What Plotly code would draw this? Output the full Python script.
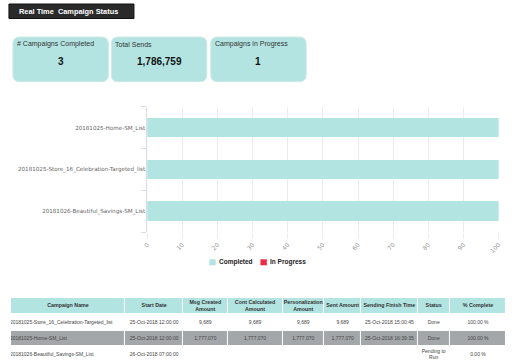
import plotly.graph_objects as go

W, H = 512, 363

# ---- data ----
campaigns = ["20181025-Home-SM_List", "20181025-Store_16_Celebration-Targeted_list", "20181026-Beautiful_Savings-SM_List"]
completed = [100, 100, 100]
in_progress = [0, 0, 0]
x_ticks = [0, 10, 20, 30, 40, 50, 60, 70, 80, 90, 100]
series_names = ["Completed", "In Progress"]

card_titles = ["# Campaigns Completed", "Total Sends", "Campaigns in Progress"]
card_values = ["3", "1,786,759", "1"]

tbl_headers = ["Campaign Name", "Start Date", "Msg Created<br>Amount", "Cont Calculated<br>Amount",
               "Personalization<br>Amount", "Sent Amount", "Sending Finish Time", "Status", "% Complete"]
tbl_name = ["20181025-Store_16_Celebration-Targeted_list", "20181025-Home-SM_List", "20181026-Beautiful_Savings-SM_List"]
tbl_start = ["25-Oct-2018 12:00:00", "25-Oct-2018 12:00:00", "26-Oct-2018 07:00:00"]
tbl_msg = ["9,689", "1,777,070", ""]
tbl_cont = ["9,689", "1,777,070", ""]
tbl_pers = ["9,689", "1,777,070", ""]
tbl_sent = ["9,689", "1,777,070", ""]
tbl_finish = ["25-Oct-2018 15:00:45", "25-Oct-2018 16:39:35", ""]
tbl_status = ["Done", "Done", "Pending to<br>Run"]
tbl_pct = ["100.00 %", "100.00 %", "0.00 %"]

# ---- style / layout constants ----
TEAL = "#b2e4e2"
RED = "#ee2a44"
GRAY_ROW = "#a3a7a9"
col_widths = [116, 59, 45, 56, 42, 38, 57, 33, 57]
tbl_left = 6
row_edges = [298, 314, 331, 346, 363]
row_fill_idx = [2, 0, 1, 0]   # header teal, white, gray, white


def px(x):
    return x / W


def py(y):
    return 1 - y / H


fig = go.Figure()
fig.add_trace(go.Bar(y=campaigns, x=completed, orientation="h", name=series_names[0],
                     marker=dict(color=TEAL, line=dict(width=0)), showlegend=False))
fig.add_trace(go.Bar(y=campaigns, x=in_progress, orientation="h", name=series_names[1],
                     marker=dict(color=RED, line=dict(width=0)), showlegend=False))

# ---- table drawn on its own axes ----
col_edges = [tbl_left]
for w in col_widths:
    col_edges.append(col_edges[-1] + w)
col_centers = [(a + b) / 2 for a, b in zip(col_edges[:-1], col_edges[1:])]
row_centers = [(a + b) / 2 for a, b in zip(row_edges[:-1], row_edges[1:])]

z = [[v] * len(col_widths) for v in row_fill_idx]
fig.add_trace(go.Heatmap(
    x=col_edges, y=row_edges, z=z, xaxis="x2", yaxis="y2", zmin=0, zmax=2,
    colorscale=[[0, "white"], [0.33, "white"], [0.33, GRAY_ROW], [0.66, GRAY_ROW], [0.66, TEAL], [1, TEAL]],
    showscale=False, xgap=1, ygap=1, hoverinfo="skip"))

fig.add_trace(go.Scatter(
    x=col_centers, y=[row_centers[0]] * len(col_centers), xaxis="x2", yaxis="y2",
    mode="text", text=["<b>%s</b>" % h for h in tbl_headers], textposition="middle center",
    textfont=dict(family="Liberation Sans, Arial", size=5.3, color="#333"),
    hoverinfo="skip", showlegend=False))

body_cols = [tbl_name, tbl_start, tbl_msg, tbl_cont, tbl_pers, tbl_sent, tbl_finish, tbl_status, tbl_pct]
for ci, col in enumerate(body_cols):
    if ci == 0:
        xs = [col_edges[0] - 1] * len(col)
        pos = "middle right"
    else:
        xs = [col_centers[ci]] * len(col)
        pos = "middle center"
    fig.add_trace(go.Scatter(
        x=xs, y=row_centers[1:], xaxis="x2", yaxis="y2", mode="text", text=col,
        textposition=pos, textfont=dict(family="Liberation Sans, Arial", size=5, color="#444"),
        hoverinfo="skip", showlegend=False))

fig.update_layout(
    width=W, height=H, margin=dict(l=0, r=0, t=0, b=0),
    paper_bgcolor="white", plot_bgcolor="white",
    barmode="stack", bargap=0.53, showlegend=False,
    xaxis=dict(domain=[px(144.5), px(501.5)], range=[0, 100], tickvals=x_ticks,
               tickangle=-45, showgrid=True, gridcolor="#ececec", gridwidth=1,
               zeroline=False, showline=False, ticks="outside", ticklen=6, tickcolor="#ececec",
               tickfont=dict(family="DejaVu Sans", size=6, color="#999"), fixedrange=True),
    yaxis=dict(domain=[py(232), py(106.7)], categoryorder="array", categoryarray=campaigns[::-1],
               tickson="boundaries", ticks="outside", ticklen=5, tickcolor="#d5dde5",
               showline=True, linecolor="#d5dde5", linewidth=1, showgrid=False,
               tickfont=dict(family="DejaVu Sans", size=5.6, color="#666"), fixedrange=True),
    xaxis2=dict(domain=[px(col_edges[0]), px(col_edges[-1])], range=[col_edges[0], col_edges[-1]],
                visible=False, fixedrange=True),
    yaxis2=dict(domain=[0, py(row_edges[0])], range=[row_edges[-1], row_edges[0]],
                visible=False, fixedrange=True),
)

# ---- legend (drawn) ----
legend_items = [(207.5, TEAL, series_names[0]), (259.5, RED, series_names[1])]
for lx, colr, name in legend_items:
    fig.add_shape(type="rect", xref="paper", yref="paper", x0=px(lx), x1=px(lx + 6.5),
                  y0=py(265.3), y1=py(259.3), fillcolor=colr, line=dict(width=0))
    fig.add_annotation(xref="paper", yref="paper", x=px(lx + 8), y=py(262.3), xanchor="left",
                       yanchor="middle", text="<b>%s</b>" % name, showarrow=False,
                       font=dict(family="Liberation Sans, Arial", size=6.5, color="#222"))

# ---- header bar ----
fig.add_shape(type="rect", xref="paper", yref="paper", x0=px(4), x1=px(131), y0=py(18.5), y1=py(4),
              fillcolor="#2a2a2a", line=dict(color="#111", width=1), layer="below")
fig.add_annotation(xref="paper", yref="paper", x=px(12), y=py(11.3), xanchor="left", yanchor="middle",
                   text="<b>Real Time  Campaign Status</b>", showarrow=False,
                   font=dict(family="Liberation Sans, Arial", size=7.4, color="white"))


def rounded(x0, y0, x1, y1, r):
    X0, X1 = px(x0), px(x1)
    Y0, Y1 = py(y0), py(y1)
    rx, ry = r / W, r / H
    return (f"M {X0+rx},{Y0} L {X1-rx},{Y0} Q {X1},{Y0} {X1},{Y0-ry} "
            f"L {X1},{Y1+ry} Q {X1},{Y1} {X1-rx},{Y1} L {X0+rx},{Y1} Q {X0},{Y1} {X0},{Y1+ry} "
            f"L {X0},{Y0-ry} Q {X0},{Y0} {X0+rx},{Y0} Z")


card_lefts = [8, 108, 209]
for left, title, val in zip(card_lefts, card_titles, card_values):
    right = left + 97
    fig.add_shape(type="path", xref="paper", yref="paper", path=rounded(left, 37, right, 81.7, 7),
                  fillcolor="#b3e4e2", line=dict(color="#cfe9e8", width=1), layer="below")
    fig.add_annotation(xref="paper", yref="paper", x=px(left + 2), y=py(44.5), xanchor="left",
                       yanchor="middle", text=title, showarrow=False,
                       font=dict(family="Liberation Sans, Arial", size=7, color="#333"))
    fig.add_annotation(xref="paper", yref="paper", x=px((left + right) / 2), y=py(61), xanchor="center",
                       yanchor="middle", text="<b>%s</b>" % val, showarrow=False,
                       font=dict(family="Liberation Sans, Arial", size=10, color="#111"))

fig.write_html("out.html", config={"displayModeBar": False},
               post_script="document.body.style.margin='0px';document.body.style.overflow='hidden';")
